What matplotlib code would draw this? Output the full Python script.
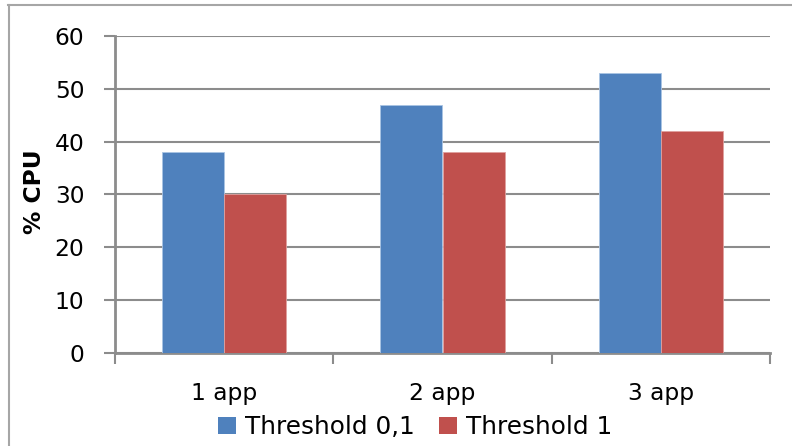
import matplotlib
matplotlib.use('Agg')
import matplotlib.pyplot as plt
import numpy as np
from matplotlib.lines import Line2D
from matplotlib.patches import Patch

plt.rcParams['font.family'] = ['DejaVu Sans']

# data
categories = ['1 app', '2 app', '3 app']
thr_01 = [38, 47, 53]
thr_1 = [30, 38, 42]
series_names = ['Threshold 0,1', 'Threshold 1']
colors = ['#4F81BD', '#C0504D']
yticks = [0, 10, 20, 30, 40, 50, 60]

grid_col = '#8c8c8c'
fs = 16.8

fig = plt.figure(figsize=(7.92, 4.46), dpi=100)
ax = fig.add_axes([115 / 792, 1 - 353 / 446, 655 / 792, 317 / 446])

x = np.arange(len(categories))
w = 0.285
ax.bar(x - w / 2, thr_01, w, color=colors[0], edgecolor='#a9c4e4', linewidth=0.6, zorder=3)
ax.bar(x + w / 2, thr_1, w, color=colors[1], edgecolor='#e0a09e', linewidth=0.6, zorder=3)

ax.set_xlim(-0.5, len(categories) - 0.5)
ax.set_ylim(0, 60)
ax.set_yticks(yticks)
ax.set_yticklabels([str(t) for t in yticks], fontsize=fs)
ax.yaxis.grid(True, color=grid_col, linewidth=1.5, zorder=0)
ax.tick_params(axis='y', length=8, width=1.5, color=grid_col, pad=14)

# labels under the categories, ticks at category boundaries
ax.set_xticks(x)
ax.set_xticklabels(categories, fontsize=fs)
ax.tick_params(axis='x', which='major', length=0, pad=21)
ax.set_xticks(np.arange(-0.5, len(categories)), minor=True)
ax.tick_params(axis='x', which='minor', length=8, width=1.5, color=grid_col)

for s in ['top', 'right']:
    ax.spines[s].set_visible(False)
for s in ['left', 'bottom']:
    ax.spines[s].set_color(grid_col)
    ax.spines[s].set_linewidth(2)

ax.set_ylabel('% CPU', fontsize=fs, fontweight='bold')
ax.yaxis.set_label_coords(-0.105, 0.51)

handles = [Patch(facecolor=c, edgecolor='none') for c in colors]
fig.legend(handles, series_names, loc='center', bbox_to_anchor=(0.524, 1 - 427 / 446),
           ncol=2, frameon=False, fontsize=17.8, handlelength=0.73, handleheight=0.7,
           handletextpad=0.36, columnspacing=1.0, borderpad=0)

# outer chart frame (top and left edges visible)
fig.add_artist(Line2D([8 / 792, 1.01], [1 - 5 / 446, 1 - 5 / 446], color='#a6a6a6', linewidth=1.5))
fig.add_artist(Line2D([9 / 792, 9 / 792], [-0.01, 1 - 5 / 446], color='#a6a6a6', linewidth=1.5))

# bottom of the cut-off title
fig.text(353 / 792, 1 + 6.5 / 446, 'g', fontsize=24, fontweight='bold', ha='center', va='baseline')

fig.savefig('out.png', dpi=100)
